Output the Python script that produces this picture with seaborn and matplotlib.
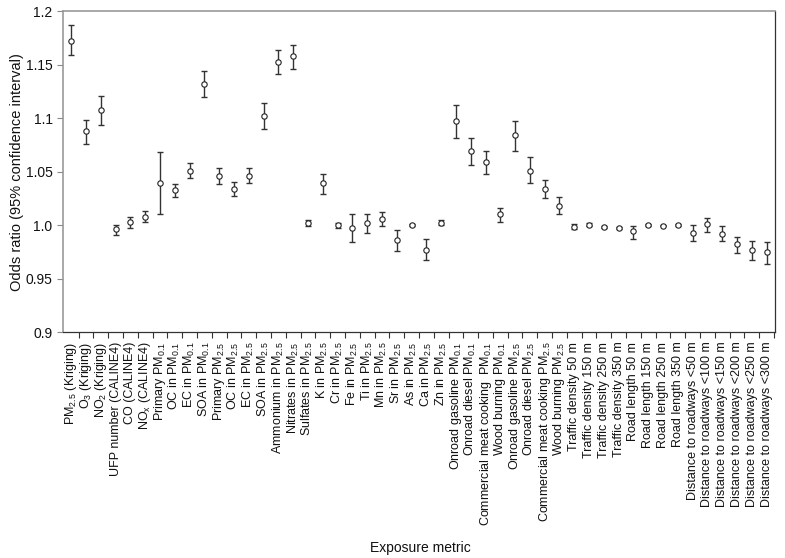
import numpy as np
import pandas as pd
import seaborn as sns
import matplotlib.pyplot as plt

labels = [
    'PM$_{2.5}$ (Kriging)', 'O$_3$ (Kriging)', 'NO$_2$ (Kriging)',
    'UFP number (CALINE4)', 'CO (CALINE4)', 'NO$_x$ (CALINE4)',
    'Primary PM$_{0.1}$', 'OC in PM$_{0.1}$', 'EC in PM$_{0.1}$', 'SOA in PM$_{0.1}$',
    'Primary PM$_{2.5}$', 'OC in PM$_{2.5}$', 'EC in PM$_{2.5}$', 'SOA in PM$_{2.5}$',
    'Ammonium in PM$_{2.5}$', 'Nitrates in PM$_{2.5}$', 'Sulfates in PM$_{2.5}$',
    'K in PM$_{2.5}$', 'Cr in PM$_{2.5}$', 'Fe in PM$_{2.5}$', 'Ti in PM$_{2.5}$',
    'Mn in PM$_{2.5}$', 'Sr in PM$_{2.5}$', 'As in PM$_{2.5}$', 'Ca in PM$_{2.5}$',
    'Zn in PM$_{2.5}$',
    'Onroad gasoline PM$_{0.1}$', 'Onroad diesel PM$_{0.1}$',
    'Commercial meat cooking  PM$_{0.1}$', 'Wood burning PM$_{0.1}$',
    'Onroad gasoline PM$_{2.5}$', 'Onroad diesel PM$_{2.5}$',
    'Commercial meat cooking PM$_{2.5}$', 'Wood burning PM$_{2.5}$',
    'Traffic density 50 m', 'Traffic density 150 m', 'Traffic density 250 m',
    'Traffic density 350 m',
    'Road length 50 m', 'Road length 150 m', 'Road length 250 m', 'Road length 350 m',
    'Distance to roadways <50 m', 'Distance to roadways <100 m',
    'Distance to roadways <150 m', 'Distance to roadways <200 m',
    'Distance to roadways <250 m', 'Distance to roadways <300 m',
]

odds_ratio = [
    1.172, 1.088, 1.108, 0.996, 1.003, 1.008, 1.039, 1.033, 1.051, 1.132,
    1.046, 1.034, 1.046, 1.102, 1.152, 1.158, 1.002, 1.039, 1.000, 0.997,
    1.002, 1.006, 0.986, 1.000, 0.977, 1.002, 1.097, 1.069, 1.059, 1.010,
    1.084, 1.051, 1.034, 1.018, 0.998, 1.000, 0.998, 0.9975, 0.994, 1.000,
    0.9995, 1.000, 0.993, 1.001, 0.992, 0.982, 0.977, 0.975,
]

ci_low = [
    1.159, 1.076, 1.094, 0.991, 0.997, 1.003, 1.010, 1.026, 1.044, 1.120,
    1.038, 1.027, 1.039, 1.090, 1.141, 1.146, 0.9995, 1.029, 0.9975, 0.984,
    0.993, 0.999, 0.976, 0.9993, 0.967, 0.9997, 1.081, 1.056, 1.048, 1.003,
    1.069, 1.039, 1.025, 1.010, 0.996, 0.999, 0.997, 0.9965, 0.987, 0.9994,
    0.9989, 0.9994, 0.985, 0.9935, 0.985, 0.974, 0.967, 0.964,
]

ci_high = [
    1.187, 1.098, 1.121, 1.000, 1.008, 1.013, 1.068, 1.038, 1.058, 1.144,
    1.053, 1.040, 1.053, 1.114, 1.164, 1.168, 1.005, 1.048, 1.002, 1.010,
    1.010, 1.012, 0.995, 1.0007, 0.987, 1.005, 1.112, 1.081, 1.069, 1.016,
    1.097, 1.064, 1.042, 1.026, 1.0006, 1.0015, 0.999, 0.9985, 0.9994, 1.0006,
    1.0001, 1.0006, 1.000, 1.007, 0.999, 0.989, 0.9855, 0.984,
]

df = pd.DataFrame({'metric': labels, 'or': odds_ratio, 'lo': ci_low, 'hi': ci_high})
df['pos'] = np.arange(len(df))

sns.set_style('white')
plt.rcParams['font.family'] = ['Liberation Sans', 'DejaVu Sans']
plt.rcParams['mathtext.default'] = 'regular'

fig = plt.figure(figsize=(7.85, 5.58), dpi=100)
ax = fig.add_axes([0.0803, 0.405, 0.9067, 0.575])

ax.errorbar(df['pos'], df['or'], yerr=[df['or'] - df['lo'], df['hi'] - df['or']],
            fmt='none', ecolor='#333333', elinewidth=1.0, capsize=2.2, capthick=1.0,
            zorder=2)
sns.scatterplot(data=df, x='pos', y='or', ax=ax, marker='o', s=15,
                facecolor='white', edgecolor='#222222', linewidth=0.8, zorder=3)

ax.set_xlim(-0.55, len(df) - 0.45)
ax.set_ylim(0.9, 1.2)
yt = [0.9, 0.95, 1.0, 1.05, 1.1, 1.15, 1.2]
ax.set_yticks(yt)
ax.set_yticklabels(['0.9', '0.95', '1.0', '1.05', '1.1', '1.15', '1.2'])
ax.set_xticks(df['pos'])
ax.set_xticklabels(df['metric'], rotation=90, ha='center', va='top')
ax.set_xticks(np.arange(-0.5, len(df), 1.0)[1:], minor=True)
ax.tick_params(axis='x', which='major', length=0, pad=7, labelsize=9,
               labelcolor='#111111')
ax.tick_params(axis='x', which='minor', length=4, width=0.8, color='#333333',
               direction='out', bottom=True)
ax.tick_params(axis='y', which='major', length=4, width=0.8, color='#888888',
               direction='out', left=True, labelsize=10, labelcolor='#111111')

for side in ['left', 'top']:
    ax.spines[side].set_color('#999999')
    ax.spines[side].set_linewidth(1.2)
for side in ['right', 'bottom']:
    ax.spines[side].set_color('#333333')
    ax.spines[side].set_linewidth(0.9)

ax.set_xlabel('')
ax.set_ylabel('Odds ratio (95% confidence interval)', fontsize=10.5, color='#111111',
              labelpad=1)
fig.text(0.535, 0.006, 'Exposure metric', ha='center', va='bottom', fontsize=10,
         color='#111111')

fig.savefig('out.png', dpi=100)
